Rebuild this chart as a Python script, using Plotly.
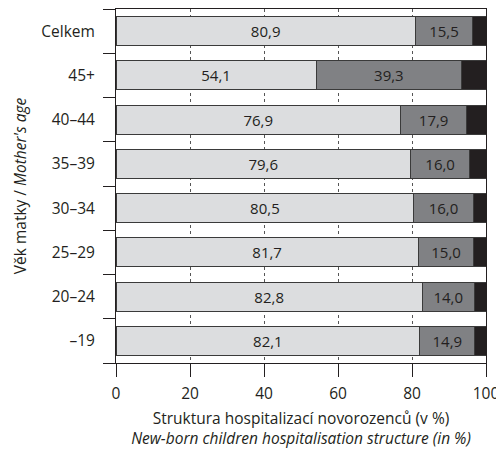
import plotly.graph_objects as go

categories = ["–19", "20–24", "25–29", "30–34", "35–39", "40–44", "45+", "Celkem"]
seg1 = [82.1, 82.8, 81.7, 80.5, 79.6, 76.9, 54.1, 80.9]
seg2 = [14.9, 14.0, 15.0, 16.0, 16.0, 17.9, 39.3, 15.5]
seg3 = [3.0, 3.2, 3.3, 3.5, 4.4, 5.2, 6.6, 3.6]
xticks = [0, 20, 40, 60, 80, 100]

FONT = "Open Sans"
FS = 15.5
fig = go.Figure()
for vals, col, show in [(seg1, "#dcdddf", True), (seg2, "#808184", True), (seg3, "#231f20", False)]:
    fig.add_trace(go.Bar(
        y=categories, x=vals, orientation="h", width=0.66,
        marker=dict(color=col, line=dict(color="#3a3a3a", width=1)),
        text=[f"{v:.1f}".replace(".", ",") for v in vals] if show else None,
        textposition="inside" if show else "none", insidetextanchor="middle",
        textfont=dict(color="#231f20", size=15, family=FONT),
        hoverinfo="skip",
    ))

fig.update_layout(
    barmode="stack", width=496, height=449, showlegend=False,
    margin=dict(l=116, r=10, t=9, b=86, autoexpand=False),
    plot_bgcolor="white", paper_bgcolor="white",
    font=dict(family=FONT, size=FS, color="#231f20"),
    uniformtext=dict(minsize=8, mode="show"),
)
fig.update_xaxes(
    range=[0, 100], tickvals=xticks, ticktext=[str(v) for v in xticks],
    ticks="outside", ticklen=13, tickcolor="#231f20", tickwidth=1,
    showline=True, linecolor="#231f20", linewidth=1, mirror=True,
    showgrid=True, gridcolor="#555555", griddash="dot", gridwidth=1,
    zeroline=False, automargin=False, ticklabeloverflow="allow",
    ticklabelstandoff=3,
    title=dict(text="Struktura hospitalizací novorozenců (v %)<br><i>New-born children hospitalisation structure (in %)</i>",
               font=dict(size=FS), standoff=11),
)
fig.update_yaxes(
    categoryorder="array", categoryarray=categories, range=[-0.5, 7.5],
    tickson="boundaries", ticks="outside", ticklen=12, tickcolor="#231f20",
    showline=True, linecolor="#231f20", linewidth=1, mirror=True,
    showgrid=False, ticklabelstandoff=17, automargin=False,
    title=dict(text="Věk matky / <i>Mother's age</i>", font=dict(size=FS), standoff=10),
)
fig.write_html("out.html", config={"displayModeBar": False},
               post_script="document.body.style.margin='0';document.body.style.overflow='hidden';")
